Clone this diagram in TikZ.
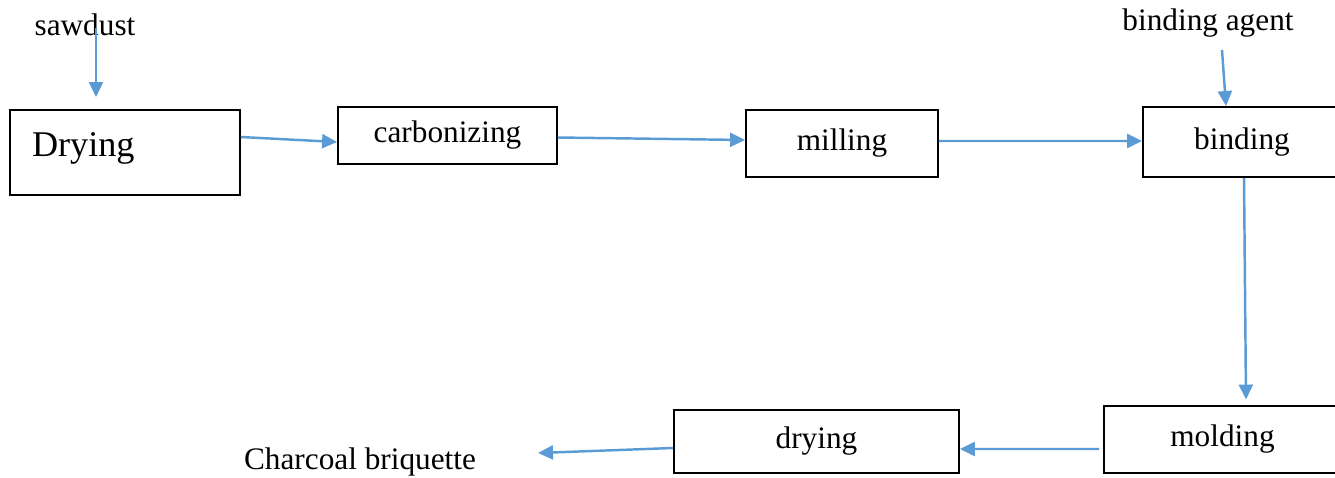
\documentclass[tikz,border=0pt]{standalone}
\usepackage{fontspec}
\setmainfont{Liberation Serif}
\usetikzlibrary{arrows.meta}
\definecolor{flowblue}{HTML}{5B9BD5}
\tikzset{
  stage/.style={draw, line width=1.1pt, rectangle, inner sep=0pt, font=\fontsize{17.8}{21}\selectfont},
  feed/.style={inner sep=0pt, font=\fontsize{17.8}{21}\selectfont},
  flow/.style={-{Triangle[length=0.3cm,width=0.28cm]}, color=flowblue, line width=1.4pt}
}
\begin{document}
\begin{tikzpicture}[x=0.02cm, y=-0.02cm]
\useasboundingbox (0,0) rectangle (1335,477);
\node (sawdust) [feed] at (85,25) {sawdust};
\node (agent) [feed] at (1208,23) {binding agent};
\node (briquette) [feed] at (360,462) {Charcoal briquette};

\node (dry1) [stage, minimum width=4.6cm, minimum height=1.7cm, text width=3.72cm, align=left, font=\fontsize{20.6}{24}\selectfont] at (125,152.5) {\raisebox{0.09cm}[\height][\depth]{Drying}};
\node (carb) [stage, minimum width=4.38cm, minimum height=1.14cm] at (447.5,135.5) {carbonizing};
\node (mill) [stage, minimum width=3.84cm, minimum height=1.34cm] at (842,143.5) {milling};
\node (bind) [stage, minimum width=3.96cm, minimum height=1.4cm] at (1242,142) {binding};
\node (mold) [stage, minimum width=4.74cm, minimum height=1.34cm] at (1222.5,439.5) {molding};
\node (dry2) [stage, minimum width=5.7cm, minimum height=1.26cm] at (816.5,441.5) {drying};

\coordinate (sawdust-out) at (96,28);
\coordinate (sawdust-in) at (96,97);
\coordinate (agent-out) at (1222,50);
\coordinate (briquette-in) at (538,453);

\draw[flow] (sawdust-out) -- (sawdust-in);
\draw[flow] (agent-out) -- ([xshift=-0.32cm]bind.north);
\draw[flow] ([yshift=0.31cm]dry1.east) -- ([yshift=-0.13cm]carb.west);
\draw[flow] ([yshift=-0.04cm]carb.east) -- ([yshift=0.07cm]mill.west);
\draw[flow] ([yshift=0.05cm]mill.east) -- ([yshift=0.02cm]bind.west);
\draw[flow] ([xshift=0.04cm]bind.south) -- ([xshift=0.47cm,yshift=0.11cm]mold.north);
\draw[flow] ([xshift=-0.08cm,yshift=-0.19cm]mold.west) -- ([yshift=-0.15cm]dry2.east);
\draw[flow] ([yshift=-0.13cm]dry2.west) -- (briquette-in);
\end{tikzpicture}
\end{document}
